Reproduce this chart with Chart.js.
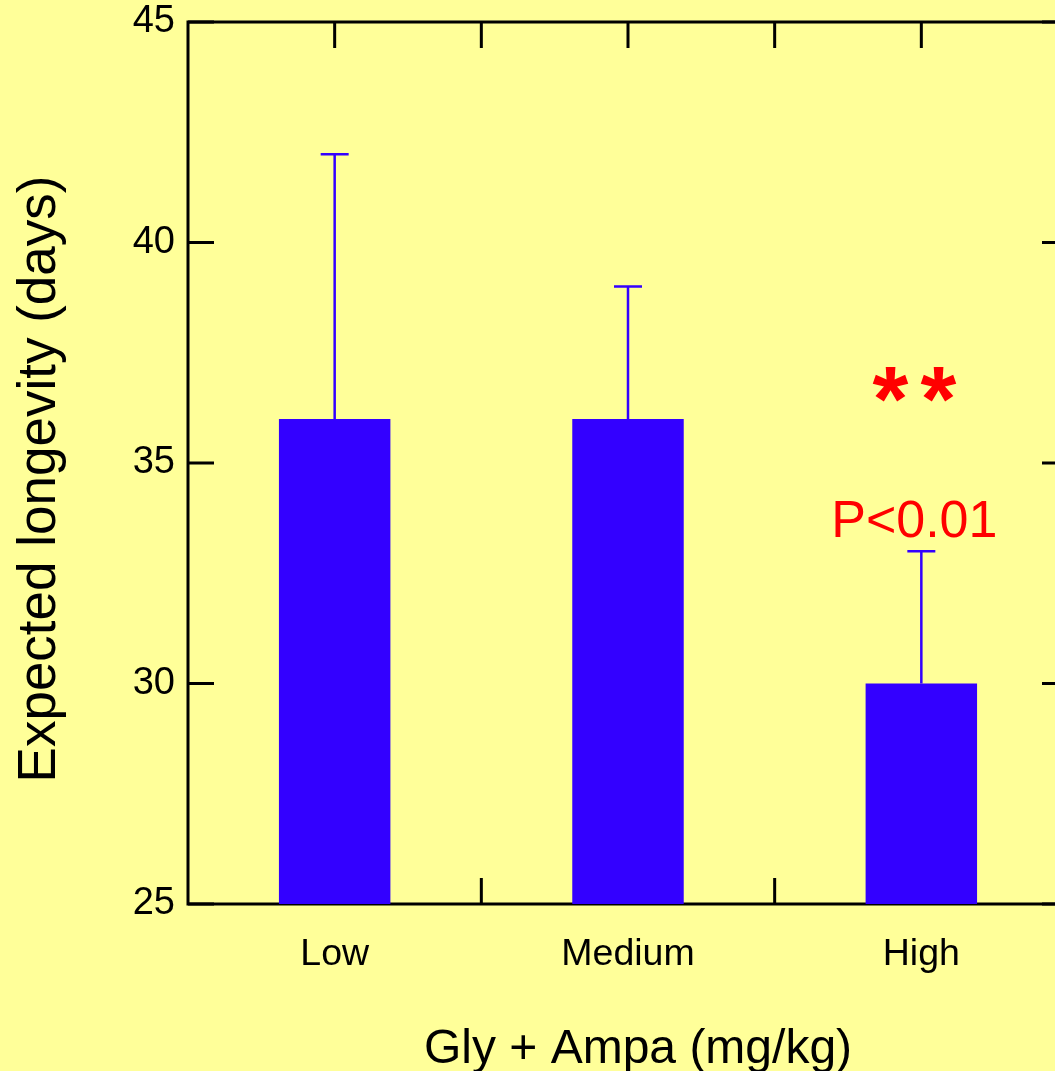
<!DOCTYPE html>
<html>
<head>
<meta charset="utf-8">
<script src="https://cdn.jsdelivr.net/npm/chart.js@4/dist/chart.umd.min.js"></script>
<style>
    html, body { margin: 0; padding: 0; background: #ffff99; overflow: hidden; }
    #wrap { width: 1080px; height: 1071px; }
</style>
</head>
<body>
<div id="wrap"><canvas id="chart" width="1080" height="1071"></canvas></div>
<script>
// values
const categories = ['Low', 'Medium', 'High'];
const longevity = [36, 36, 30];          // bar height (days)
const errorTop = [42, 39, 33];           // top of the error whisker
const yTickValues = [25, 30, 35, 40, 45];
const sigStars = ['*', '*'];
const sigText = 'P<0.01';
const sigIndex = 2;                      // annotation sits over "High"
const sigStarsBase = 35.73;              // baseline of the "* *" mark (days)
const sigTextBase = 33.32;               // baseline of the "P<0.01" label (days)

const BAR_BLUE = '#3300ff';
const SIG_RED = '#ff0000';
const AXIS = '#000000';
const FONT = '"Liberation Sans", Arial, Helvetica, sans-serif';

const TICK_LEN = 26;

// frame, ticks (all pointing inward) and axis titles, drawn behind the bars
const framePlugin = {
    id: 'frame',
    beforeDatasetsDraw(chart) {
        const { ctx, chartArea: a, scales: { x, y } } = chart;
        ctx.save();
        ctx.strokeStyle = AXIS;
        ctx.lineWidth = 3;
        ctx.lineCap = 'butt';
        ctx.strokeRect(a.left, a.top, a.right - a.left, a.bottom - a.top);

        ctx.beginPath();
        // y ticks on left (pointing right) and right (pointing left)
        yTickValues.forEach(v => {
            const py = y.getPixelForValue(v);
            ctx.moveTo(a.left, py); ctx.lineTo(a.left + TICK_LEN, py);
            ctx.moveTo(a.right, py); ctx.lineTo(a.right - TICK_LEN, py);
        });
        // category boundaries: ticks on top and bottom; centres: top only
        const step = (a.right - a.left) / categories.length;
        for (let i = 1; i < categories.length; i++) {
            const px = a.left + step * i;
            ctx.moveTo(px, a.top); ctx.lineTo(px, a.top + TICK_LEN);
            ctx.moveTo(px, a.bottom); ctx.lineTo(px, a.bottom - TICK_LEN);
        }
        categories.forEach((c, i) => {
            const px = x.getPixelForValue(i);
            ctx.moveTo(px, a.top); ctx.lineTo(px, a.top + TICK_LEN);
        });
        ctx.stroke();

        // axis titles
        ctx.fillStyle = AXIS;
        ctx.textAlign = 'center';
        ctx.textBaseline = 'middle';
        ctx.font = '48px ' + FONT;
        ctx.fillText('Gly + Ampa (mg/kg)', 638, 1050);
        ctx.font = '53px ' + FONT;
        ctx.translate(40, 479);
        ctx.rotate(-Math.PI / 2);
        ctx.fillText('Expected longevity (days)', 0, 0);
        ctx.restore();
    },
    afterDatasetsDraw(chart) {
        const { ctx, scales: { x, y } } = chart;
        ctx.save();
        // error whiskers (upper only)
        ctx.strokeStyle = BAR_BLUE;
        ctx.lineWidth = 2.5;
        ctx.beginPath();
        errorTop.forEach((top, i) => {
            const px = x.getPixelForValue(i);
            const y0 = y.getPixelForValue(longevity[i]);
            const y1 = y.getPixelForValue(top);
            ctx.moveTo(px, y0); ctx.lineTo(px, y1);
            ctx.moveTo(px - 14, y1); ctx.lineTo(px + 14, y1);
        });
        ctx.stroke();

        // significance note
        const sx = x.getPixelForValue(sigIndex) - 7;
        ctx.fillStyle = SIG_RED;
        ctx.textAlign = 'center';
        ctx.textBaseline = 'alphabetic';
        ctx.font = 'bold 92px ' + FONT;
        sigStars.forEach((s, i) => {
            ctx.fillText(s, sx + (i - 0.5) * 48, y.getPixelForValue(sigStarsBase));
        });
        ctx.font = '52px ' + FONT;
        ctx.fillText(sigText, sx, y.getPixelForValue(sigTextBase));
        ctx.restore();
    }
};

new Chart(document.getElementById('chart'), {
    type: 'bar',
    data: {
        labels: categories,
        datasets: [{
            data: longevity,
            backgroundColor: BAR_BLUE,
            borderWidth: 0,
            barPercentage: 0.38,
            categoryPercentage: 1.0
        }]
    },
    options: {
        responsive: false,
        animation: false,
        devicePixelRatio: 1,
        layout: { padding: { top: 22, right: 12, left: 0, bottom: 0 } },
        plugins: { legend: { display: false }, tooltip: { enabled: false } },
        scales: {
            x: {
                grid: { display: false, drawTicks: false },
                border: { display: false },
                ticks: { color: AXIS, font: { family: FONT, size: 37.5 }, padding: 28 },
                afterFit: s => { s.height = 167; s.paddingLeft = 0; s.paddingRight = 0; }
            },
            y: {
                min: 25,
                max: 45,
                grid: { display: false, drawTicks: false },
                border: { display: false },
                afterBuildTicks: s => { s.ticks = yTickValues.map(v => ({ value: v })); },
                ticks: { color: AXIS, font: { family: FONT, size: 38 }, padding: 13 },
                afterFit: s => { s.width = 188; s.paddingTop = 0; s.paddingBottom = 0; }
            }
        }
    },
    plugins: [framePlugin]
});
</script>
</body>
</html>
